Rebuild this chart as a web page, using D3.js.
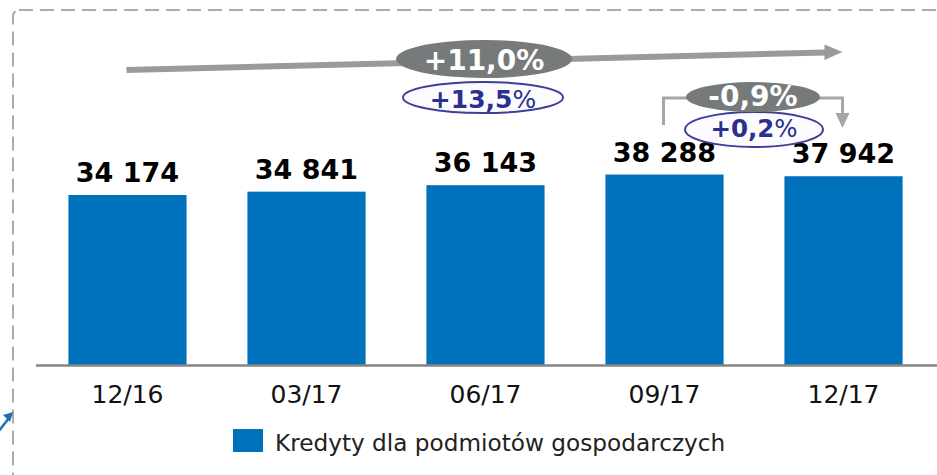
<!DOCTYPE html>
<html><head><meta charset="utf-8">
<script src="https://cdn.jsdelivr.net/npm/d3@7"></script>
<style>html,body{margin:0;padding:0;background:#fff;}svg{display:block;}</style>
</head><body>
<script>
const categories = ["12/16", "03/17", "06/17", "09/17", "12/17"];
const values = [34174, 34841, 36143, 38288, 37942];
const valueLabels = ["34 174", "34 841", "36 143", "38 288", "37 942"];
const seriesName = "Kredyty dla podmiotów gospodarczych";
const yoyChange = ["+11,0", "+13,5"];
const qoqChange = ["-0,9", "+0,2"];

const W = 937, H = 475;
const font = "'DejaVu Sans', Verdana, sans-serif";
const svg = d3.select("body").append("svg").attr("width", W).attr("height", H);

// dashed frame
svg.append("rect").attr("x", 13).attr("y", 10).attr("width", 1000).attr("height", 600)
  .attr("rx", 6).attr("fill", "none").attr("stroke", "#ababab").attr("stroke-width", 2)
  .attr("stroke-dasharray", "14 7");

const x = d3.scaleBand().domain(categories).range([38, 933]).paddingInner(0.34).paddingOuter(0.17);
const y = d3.scaleLinear().domain([0, 40000]).range([365, 166]);

// bars
svg.selectAll("rect.bar").data(values).join("rect").attr("class", "bar")
  .attr("x", (d, i) => x(categories[i])).attr("width", x.bandwidth())
  .attr("y", d => y(d)).attr("height", d => y(0) - y(d)).attr("fill", "#0071bb");

// axis
const axis = svg.append("g").attr("transform", `translate(0,${y(0)})`)
  .call(d3.axisBottom(x).tickSize(0).tickPadding(0));
axis.select(".domain").remove();
svg.append("line").attr("x1", 36).attr("x2", W).attr("y1", y(0) + 0.5).attr("y2", y(0) + 0.5)
  .attr("stroke", "#858585").attr("stroke-width", 2.5);
axis.selectAll("text").attr("y", 38).attr("dy", 0).attr("font-family", font)
  .attr("font-size", 25).attr("fill", "#111");

// value labels
svg.selectAll("text.val").data(values).join("text").attr("class", "val")
  .attr("x", (d, i) => x(categories[i]) + x.bandwidth() / 2).attr("y", d => y(d) - 13)
  .attr("text-anchor", "middle").attr("font-family", font).attr("font-weight", "bold")
  .attr("font-size", 27).attr("fill", "#000").text((d, i) => valueLabels[i]);

// legend
svg.append("rect").attr("x", 233).attr("y", 429).attr("width", 30).attr("height", 23).attr("fill", "#0071bb");
svg.append("text").attr("x", 275).attr("y", 451).attr("font-family", font).attr("font-size", 23.2)
  .attr("fill", "#222").text(seriesName);

// long arrow
const grey = "#9a9a9a";
const x0 = x(categories[0]) + x.bandwidth() / 2, xN = x(categories[4]) + x.bandwidth() / 2;
svg.append("line").attr("x1", x0 - 1).attr("y1", 70).attr("x2", xN - 18).attr("y2", 52.5)
  .attr("stroke", grey).attr("stroke-width", 6);
svg.append("path").attr("d", `M${xN - 19},44.5 L${xN - 1},52 L${xN - 19},60 Z`).attr("fill", grey);

function ellipseLabel(cx, cy, rx, ry, txt, kind, fs, base) {
  const g = svg.append("g");
  if (kind === "grey") {
    g.append("ellipse").attr("cx", cx).attr("cy", cy).attr("rx", rx).attr("ry", ry).attr("fill", "#767a7a");
  } else {
    g.append("ellipse").attr("cx", cx).attr("cy", cy).attr("rx", rx).attr("ry", ry)
      .attr("fill", "#fcfcfe").attr("stroke", "#3d3f99").attr("stroke-width", 2);
  }
  const t = g.append("text").attr("x", cx).attr("y", base).attr("text-anchor", "middle")
    .attr("font-family", font).attr("font-size", fs).attr("font-weight", "bold")
    .attr("fill", kind === "grey" ? "#fff" : "#2b2f8f");
  t.append("tspan").text(txt);
  t.append("tspan").attr("font-weight", kind === "grey" ? "bold" : "normal").text("%");
}

ellipseLabel(483, 97.5, 80, 15.5, yoyChange[1], "blue", 25, 108);
ellipseLabel(484, 59, 88, 19, yoyChange[0], "grey", 28, 70);

// bracket for quarter change
const xa = x(categories[3]) + x.bandwidth() / 2, xb = xN;
svg.append("path").attr("d", `M${xa - 1},125 L${xa - 1},98 L${xb - 1},98 L${xb - 1},114`)
  .attr("fill", "none").attr("stroke", "#a6a6a6").attr("stroke-width", 3);
svg.append("path").attr("d", `M${xb - 8},113 L${xb + 6},113 L${xb - 1},128 Z`).attr("fill", "#a6a6a6");

ellipseLabel(754, 129.5, 69, 17.5, qoqChange[1], "blue", 24.5, 137);
ellipseLabel(753, 97, 67, 15, qoqChange[0], "grey", 28, 106);

// small blue arrow fragment at left
svg.append("path").attr("d", "M-2,432 L9,418").attr("stroke", "#1f6fb5").attr("stroke-width", 2.5).attr("fill", "none");
svg.append("path").attr("d", "M13,412 L3,415 L10,422 Z").attr("fill", "#1f6fb5");
</script>
</body></html>
